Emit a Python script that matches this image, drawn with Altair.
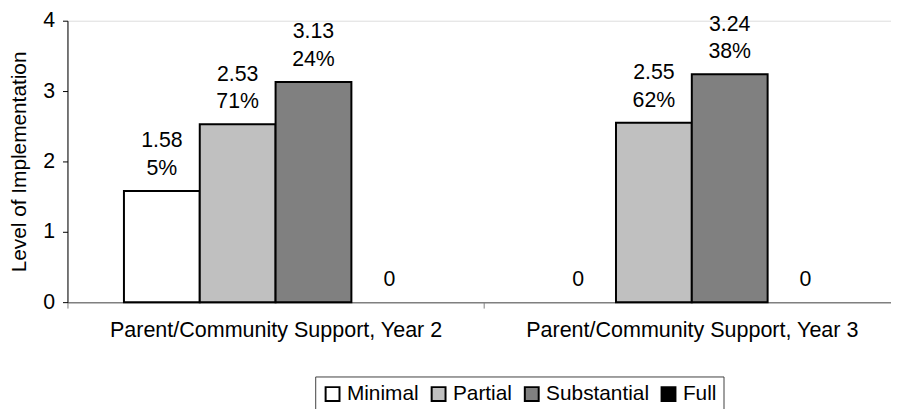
import altair as alt
import pandas as pd

categories = ["Parent/Community Support, Year 2", "Parent/Community Support, Year 3"]
levels = ["Minimal", "Partial", "Substantial", "Full"]
level_colors = ["#FFFFFF", "#C0C0C0", "#808080", "#000000"]
year2_values = [1.58, 2.53, 3.13, 0]
year3_values = [0, 2.55, 3.24, 0]
year2_pcts = ["5%", "71%", "24%", ""]
year3_pcts = ["", "62%", "38%", ""]
y_ticks = [0, 1, 2, 3, 4]

rows = []
for cat, vals, pcts in [(categories[0], year2_values, year2_pcts),
                        (categories[1], year3_values, year3_pcts)]:
    for lev, v, p in zip(levels, vals, pcts):
        rows.append({"category": cat, "level": lev, "value": v,
                     "top_label": f"{v:.2f}" if v else "",
                     "bottom_label": p if v else "0"})
df = pd.DataFrame(rows)

FONT = "Liberation Sans, Arial, sans-serif"

x_enc = alt.X("category:N", sort=categories,
              scale=alt.Scale(range=[0, 840], paddingInner=0, paddingOuter=0),
              axis=alt.Axis(title=None, labelAngle=0, labelFontSize=21.7, labelColor="black",
                            labelFont=FONT, labelLimit=0, tickBand="extent", tickSize=6,
                            labelPadding=12, domainColor="#808080", domainWidth=1.5,
                            tickColor="#808080", grid=False))
xo_enc = alt.XOffset("level:N", sort=levels,
                     scale=alt.Scale(domain=levels, paddingInner=0, paddingOuter=0.745))
y_enc = alt.Y("value:Q",
              scale=alt.Scale(domain=[0, 4], nice=False),
              axis=alt.Axis(title="Level of Implementation", values=y_ticks, format="d",
                            grid=False, labelFontSize=21.5, labelColor="black", labelFont=FONT,
                            tickSize=5, labelPadding=8, domainColor="black", tickColor="black",
                            titleFontSize=21, titleFont=FONT, titleFontWeight="normal",
                            titleColor="black", titleX=-48, titleY=142, titleAngle=270,
                            titleAlign="center", titleBaseline="middle"))

base = alt.Chart(df)

bars = base.transform_filter("datum.value > 0").mark_bar(stroke="black", strokeWidth=2).encode(
    x=x_enc,
    xOffset=xo_enc,
    y=y_enc,
    fill=alt.Fill("level:N", sort=levels,
                  scale=alt.Scale(domain=levels, range=level_colors),
                  legend=alt.Legend(title=None, orient="none", legendX=250, legendY=359,
                                    direction="horizontal", symbolType="square",
                                    symbolSize=196, symbolStrokeColor="black",
                                    symbolStrokeWidth=2, labelFontSize=21,
                                    labelFont=FONT, labelColor="black", labelOffset=4,
                                    columnPadding=8, padding=7, strokeColor="#404040",
                                    fillColor="white")),
)

bottom_text = base.mark_text(baseline="alphabetic", dy=-16, fontSize=21.5, font=FONT,
                             color="black").encode(
    x=alt.X("category:N", sort=categories),
    xOffset=alt.XOffset("level:N", sort=levels),
    y=alt.Y("value:Q"),
    text="bottom_label:N",
)

top_text = base.transform_filter("datum.value > 0").mark_text(
    baseline="alphabetic", dy=-44, fontSize=21.5, font=FONT, color="black").encode(
    x=alt.X("category:N", sort=categories),
    xOffset=alt.XOffset("level:N", sort=levels),
    y=alt.Y("value:Q"),
    text="top_label:N",
)

chart = alt.layer(bars, bottom_text, top_text).properties(
    width=831, height=284,
    autosize=alt.AutoSizeParams(type="none"),
    padding={"left": 60, "top": 11, "right": 0, "bottom": 106},
).configure_view(stroke=None).configure(font=FONT)

chart.save("out.html", embed_options={"renderer": "svg", "actions": False})
